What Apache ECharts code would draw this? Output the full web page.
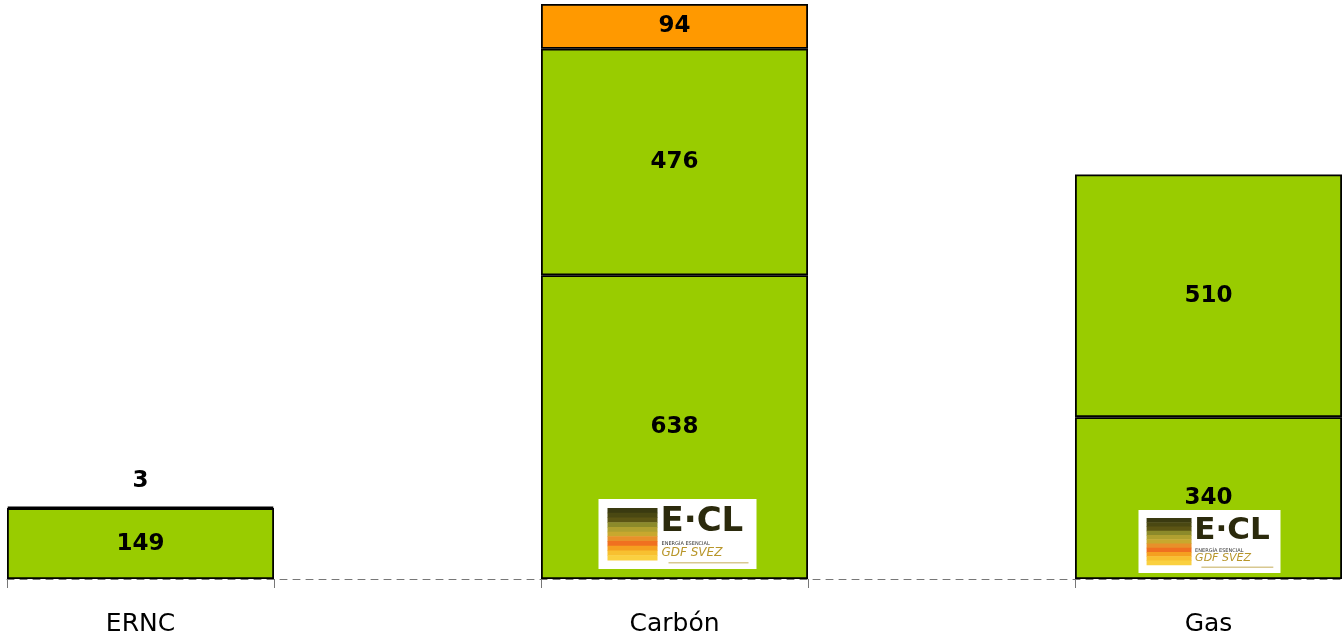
<!DOCTYPE html>
<html><head><meta charset="utf-8">
<script src="https://cdn.jsdelivr.net/npm/echarts@6/dist/echarts.min.js"></script>
<style>html,body{margin:0;padding:0;background:#fff}#c{width:1342px;height:640px}</style>
</head><body><div id="c"></div>
<script>
var categories = ['ERNC', '', 'Carbón', '', 'Gas'];
var baseGreen = [149, null, 638, null, 340];
var upperGreen = [null, null, 476, null, 510];
var orangeTop = [null, null, 94, null, null];
var blackTop = [3, null, null, null, null];
var logoCategoryIndex = [2, 4];

var chart = echarts.init(document.getElementById('c'));
var FONT = 'DejaVu Sans';
function lbl(pos, dist) {
  return {show: true, position: pos || 'inside', distance: dist || 5, color: '#000', fontFamily: FONT, fontWeight: 'bold', fontSize: 23,
    formatter: function (p) { return p.value == null ? '' : p.value; }};
}
function ser(name, data, color, label) {
  return {name: name, type: 'bar', stack: 's', data: data, barWidth: '100%', barGap: '0%', barCategoryGap: '0%',
    itemStyle: {color: color, borderColor: '#000', borderWidth: 1.8}, label: label, animation: false};
}
chart.setOption({
  animation: false,
  grid: {left: 7, right: 0, top: 4, bottom: 61},
  xAxis: {type: 'category', data: categories,
    axisLine: {lineStyle: {color: '#777', type: [7, 6], width: 1}},
    axisTick: {show: true, length: 9, lineStyle: {color: '#777'}},
    axisLabel: {color: '#000', fontFamily: FONT, fontSize: 25, margin: 33}},
  yAxis: {type: 'value', min: 0, max: 1208, show: false, splitLine: {show: false}},
  series: [
    ser('a', baseGreen, '#99CC00', lbl()),
    ser('b', upperGreen, '#99CC00', lbl()),
    ser('c', orangeTop, '#FF9900', lbl()),
    ser('d', blackTop, '#000', lbl('top', 14))
  ]
});

function logo(cx, by, w, h) {
  var x = cx - w / 2, y = by - h;
  var s = w / 158;
  var Z = 100;
  var els = [{type: 'rect', z: Z, shape: {x: x, y: y, width: w, height: h}, style: {fill: '#fff'}}];
  var stripes = ['#3a3a10', '#4a4812', '#5c5514', '#8c8a2a', '#b0a030', '#c8a82e', '#e8902a', '#f07020', '#f5a020', '#f8c030', '#fad040'];
  var sx = x + 9 * s, sy = y + 9 * s, sw = 50 * s, sh = 52 * s;
  for (var i = 0; i < stripes.length; i++) {
    els.push({type: 'rect', z: Z + 1, shape: {x: sx, y: sy + i * sh / stripes.length, width: sw, height: sh / stripes.length + 0.5}, style: {fill: stripes[i]}});
  }
  els.push({type: 'text', z: Z + 1, style: {x: x + 62 * s, y: y + 6 * s, text: 'E·CL', fill: '#2b2a0c', fontFamily: FONT, fontWeight: 'bold', fontSize: Math.round(34 * s)}});
  els.push({type: 'text', z: Z + 1, style: {x: x + 63 * s, y: y + 42 * s, text: 'ENERGÍA ESENCIAL', fill: '#333', fontFamily: FONT, fontSize: 5}});
  els.push({type: 'text', z: Z + 1, style: {x: x + 63 * s, y: y + 48 * s, text: 'GDF SVEZ', fill: '#b8962a', fontFamily: FONT, fontStyle: 'italic', fontSize: Math.round(12 * s)}});
  els.push({type: 'rect', z: Z + 1, shape: {x: x + 70 * s, y: y + 63 * s, width: 80 * s, height: 1.5}, style: {fill: '#d8c890'}});
  return els;
}
var p1 = chart.convertToPixel({gridIndex: 0}, [logoCategoryIndex[0], 0]);
var p2 = chart.convertToPixel({gridIndex: 0}, [logoCategoryIndex[1], 0]);
if (!p1 || isNaN(p1[0])) { p1 = [674, 579]; }
if (!p2 || isNaN(p2[0])) { p2 = [1209, 579]; }
var elements = logo(p1[0] + 3, p1[1] - 10, 158, 70).concat(logo(p2[0] + 1, p2[1] - 6, 142, 63));
chart.setOption({graphic: {z: 100, elements: elements}});
</script></body></html>
